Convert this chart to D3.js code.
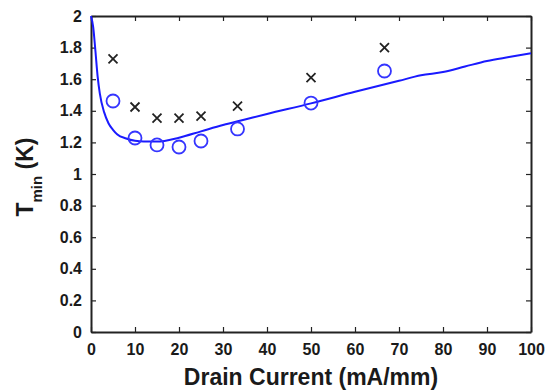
<!DOCTYPE html>
<html>
<head>
<meta charset="utf-8">
<script src="https://cdn.jsdelivr.net/npm/d3@7"></script>
<style>
  body { margin: 0; background: #fff; }
  svg { display: block; }
  text { font-family: "Liberation Sans", Arial, sans-serif; font-weight: bold; fill: #1a1a1a; }
</style>
</head>
<body>
<svg id="chart"></svg>
<script>
// measured points (x = drain current, mA/mm)
var measX = [5, 10, 15, 20, 25, 33.3, 50, 66.7];
var crossY = [1.728, 1.424, 1.354, 1.354, 1.367, 1.43, 1.61, 1.80];
var circleY = [1.462, 1.228, 1.184, 1.171, 1.209, 1.285, 1.449, 1.652];

// model curve
var lineX = [0, 0.5, 1, 1.5, 2, 3, 4, 5, 6, 8, 10, 12, 15, 20, 25, 30, 35, 40, 50, 60, 70, 75, 80, 85, 90, 95, 100];
var lineY = [2.0, 1.93, 1.78, 1.62, 1.51, 1.39, 1.32, 1.28, 1.25, 1.225, 1.21, 1.205, 1.205, 1.23, 1.27, 1.31, 1.345, 1.38, 1.447, 1.52, 1.59, 1.625, 1.645, 1.68, 1.715, 1.74, 1.764];

var xTicks = [0, 10, 20, 30, 40, 50, 60, 70, 80, 90, 100];
var yTicks = [0, 0.2, 0.4, 0.6, 0.8, 1, 1.2, 1.4, 1.6, 1.8, 2];

var width = 548, height = 391;
var margin = {top: 16, right: 17, bottom: 59, left: 91};

var svg = d3.select('#chart')
    .attr('width', width)
    .attr('height', height);

var x = d3.scaleLinear().domain([0, 100]).range([margin.left, width - margin.right]);
var y = d3.scaleLinear().domain([0, 2]).range([height - margin.bottom, margin.top]);

//--------------------axes (inward ticks, boxed)---------------
var axisColor = '#222';
var fmt = function(d) { return d3.format('~g')(d); };

svg.append('g')
    .attr('transform', 'translate(0,' + y(0) + ')')
    .call(d3.axisBottom(x).tickValues(xTicks).tickSizeInner(-5).tickSizeOuter(0).tickPadding(12).tickFormat(fmt))
    .call(styleAxis);

svg.append('g')
    .attr('transform', 'translate(' + x(0) + ',0)')
    .call(d3.axisLeft(y).tickValues(yTicks).tickSizeInner(-5).tickSizeOuter(0).tickPadding(9).tickFormat(fmt))
    .call(styleAxis);

svg.append('g')
    .attr('transform', 'translate(0,' + y(2) + ')')
    .call(d3.axisTop(x).tickValues(xTicks).tickSizeInner(-5).tickSizeOuter(0).tickFormat(''))
    .call(styleAxis);

svg.append('g')
    .attr('transform', 'translate(' + x(100) + ',0)')
    .call(d3.axisRight(y).tickValues(yTicks).tickSizeInner(-5).tickSizeOuter(0).tickFormat(''))
    .call(styleAxis);

function styleAxis(g) {
  g.select('.domain').attr('stroke', axisColor).attr('stroke-width', 2);
  g.selectAll('.tick line').attr('stroke', axisColor).attr('stroke-width', 1.2);
  g.selectAll('.tick text')
    .style('font-size', '16px')
    .style('font-family', '"Liberation Sans", Arial, sans-serif')
    .style('font-weight', 'bold')
    .attr('fill', '#1a1a1a');
}

//--------------------axis labels---------------
svg.append('text')
    .attr('x', (x(0) + x(100)) / 2)
    .attr('y', 385)
    .attr('text-anchor', 'middle')
    .style('font-size', '23px')
    .text('Drain Current (mA/mm)');

var ylab = svg.append('text')
    .attr('transform', 'translate(33,177) rotate(-90)')
    .attr('text-anchor', 'middle')
    .style('font-size', '23px');
ylab.append('tspan').text('T');
ylab.append('tspan').attr('dy', 9).style('font-size', '15px').text('min');
ylab.append('tspan').attr('dy', -9).text(' (K)');

//--------------------model line---------------
var lineData = lineX.map(function(d, i) { return [d, lineY[i]]; });
svg.append('path')
    .datum(lineData)
    .attr('fill', 'none')
    .attr('stroke', '#1a1aff')
    .attr('stroke-width', 2)
    .attr('d', d3.line().x(function(d) { return x(d[0]); }).y(function(d) { return y(d[1]); }).curve(d3.curveMonotoneX));

//--------------------measured points---------------
svg.append('g')
    .selectAll('circle')
    .data(measX)
    .enter().append('circle')
    .attr('cx', function(d) { return x(d); })
    .attr('cy', function(d, i) { return y(circleY[i]); })
    .attr('r', 6.5)
    .attr('fill', 'none')
    .attr('stroke', '#3535ff')
    .attr('stroke-width', 1.8);

var cs = 4.5;
svg.append('g')
    .selectAll('path')
    .data(measX)
    .enter().append('path')
    .attr('d', function(d, i) {
      var cx = x(d), cy = y(crossY[i]);
      return 'M' + (cx - cs) + ',' + (cy - cs) + 'L' + (cx + cs) + ',' + (cy + cs) +
             'M' + (cx - cs) + ',' + (cy + cs) + 'L' + (cx + cs) + ',' + (cy - cs);
    })
    .attr('stroke', '#222')
    .attr('stroke-width', 1.8)
    .attr('fill', 'none');
</script>
</body>
</html>
